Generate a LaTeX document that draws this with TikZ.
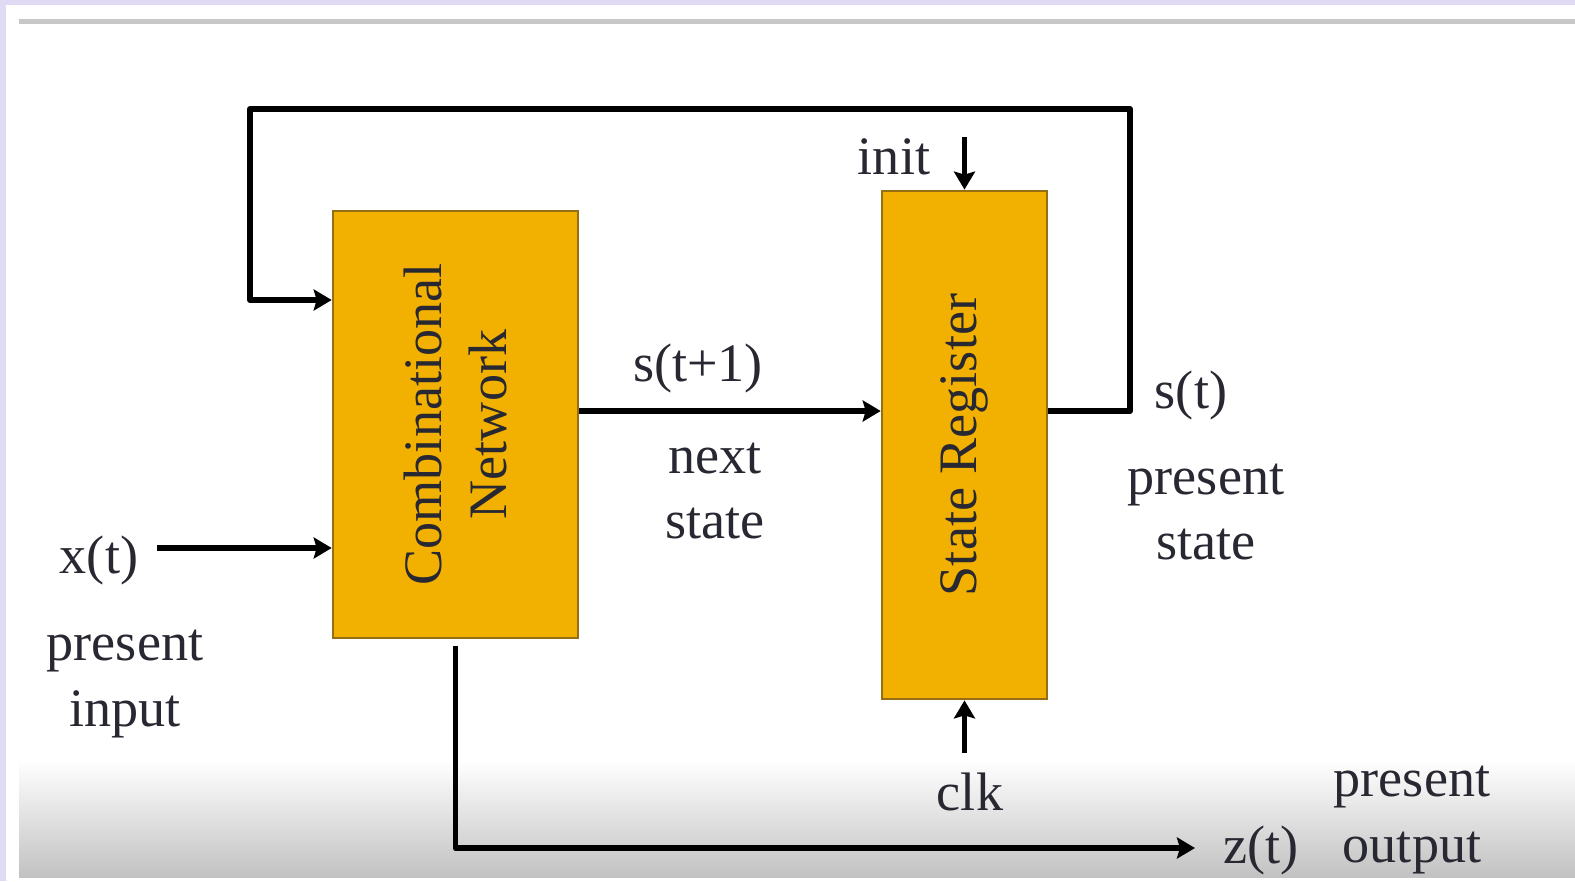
\documentclass[tikz,border=0pt]{standalone}
\usepackage{fontspec}
\setmainfont{Liberation Serif}
\usetikzlibrary{arrows.meta, calc}
\definecolor{frame}{RGB}{224,218,245}
\definecolor{boxfill}{RGB}{242,177,0}
\definecolor{boxline}{RGB}{150,110,20}
\definecolor{ink}{RGB}{40,40,50}

\begin{document}
\begin{tikzpicture}[x=0.01cm, y=-0.01cm,
    every node/.style={font=\fontsize{15.4}{18.5}\selectfont, text=ink, inner sep=0pt},
    block/.style={draw=boxline, line width=0.7pt, fill=boxfill, align=center},
    wire/.style={line width=1.7pt, line join=round},
    arr/.style={wire, -{Stealth[length=1.8mm, width=2.1mm, inset=0.3mm]}},
    lbl/.style={align=center}]
            \useasboundingbox (0,0) rectangle (1575,881);
            % Draw the frame and the slide panel
            \fill[frame] (0,0) rectangle (1575,881);
            \fill[white] (6,5) rectangle (1575,881);
            \shade[top color=white, bottom color=black!24] (19,760) rectangle (1575,877);
            \draw[black!22, line width=0.05cm] (19,21) -- (1575,21);
            
            % The two blocks
            \node[block, minimum width=2.45cm, minimum height=4.27cm] (comb) at (455.5,424.5) {};
            \node[rotate=90, lbl] at (comb.center) {Combinational\\Network};
            \node[block, minimum width=1.65cm, minimum height=5.08cm] (sreg) at (964.5,445) {};
            \node[rotate=90] at (sreg.center) {State Register};
            
            % Helper points for the wires
            \coordinate (bus) at (0,411);
            \coordinate (fbtop) at (1130,109);
            \coordinate (fbleft) at (250,300);
            \coordinate (xstart) at (157,548);
            \coordinate (zend) at (1195,848);
            
            % Next state, feedback, input and output
            \draw[arr] (comb.east |- bus) -- (sreg.west |- bus);
            \draw[arr] (sreg.east |- bus) -| (fbtop) -| (fbleft) -- (comb.west |- fbleft);
            \draw[arr] (xstart) -- (comb.west |- xstart);
            \draw[arr] ([yshift=-0.07cm]comb.south) |- (zend);
            \draw[arr] ([yshift=0.53cm]sreg.north) -- (sreg.north);
            \draw[arr] ([yshift=-0.53cm]sreg.south) -- (sreg.south);
            
            % Label the signals
            \node (snext) at (698,368) {s(t+1)};
            \node[lbl] (nextlbl) at (715,491) {next\\state};
            \node (spres) at (1191,395) {s(t)};
            \node[lbl] (preslbl) at (1206,512) {present\\state};
            \node (xin) at (99,560) {x(t)};
            \node[lbl] (inlbl) at (125,684) {present\\input};
            \node (init) at (894,157) {init};
            \node (clk) at (970,792) {clk};
            \node (zout) at (1261,850) {z(t)};
            \node[lbl] (outlbl) at (1412,820) {present\\output};
        \end{tikzpicture}
\end{document}
